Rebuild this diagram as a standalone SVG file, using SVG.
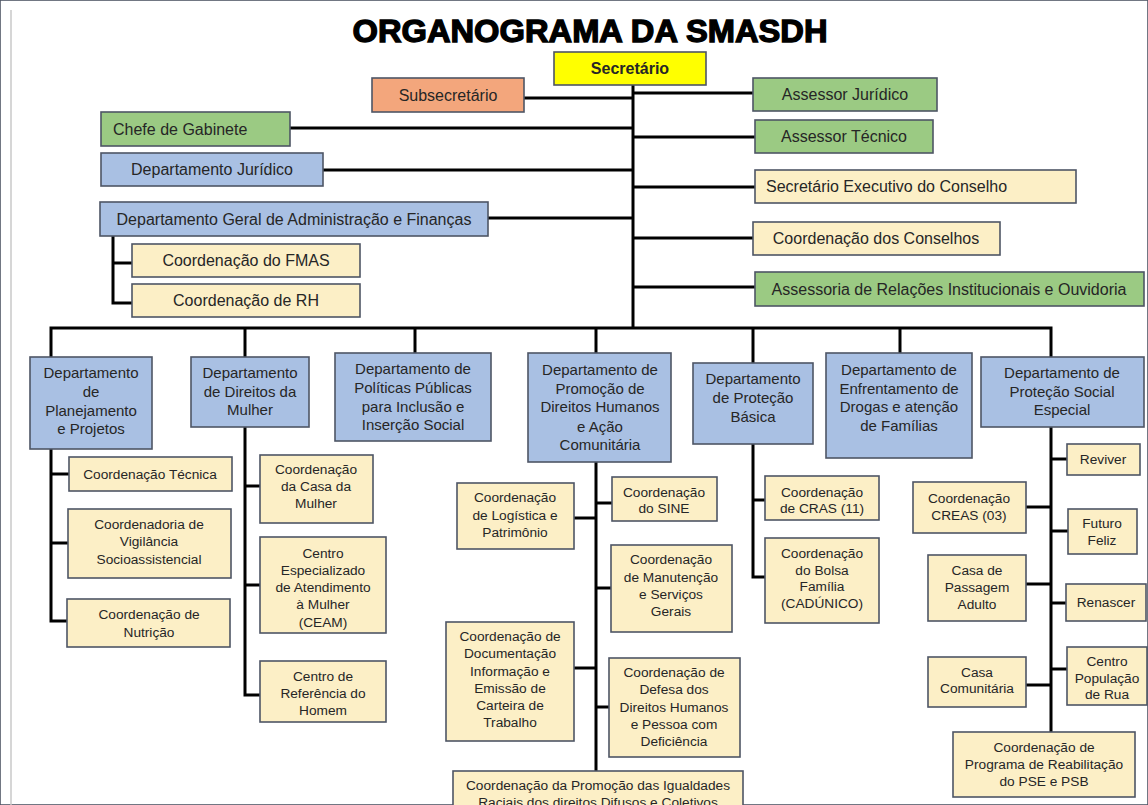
<svg xmlns="http://www.w3.org/2000/svg" width="1148" height="805" viewBox="0 0 1148 805">
<style>
rect{stroke:#4e5565;stroke-width:1.6}
.b{fill:#a9c0e3}
.y{fill:#fcefc6}
.g{fill:#9bca83}
.o{fill:#f3a67c}
.s{fill:#ffff00}
text{font-family:"Liberation Sans",Arial,sans-serif;fill:#262626;text-anchor:middle}
.t16{font-size:16px}
.t15{font-size:15px}
.t14{font-size:13.7px}
.l{text-anchor:start}
.c path{stroke:#000;stroke-width:3;fill:none;stroke-linejoin:miter}
</style>
<rect x="0" y="0" width="1148" height="805" fill="#fff" stroke="none"/>
<line x1="11" y1="10" x2="11" y2="805" stroke="#c8c8c8" stroke-width="1.5"/>
<text x="590" y="42" font-size="31" font-weight="bold" textLength="475" lengthAdjust="spacingAndGlyphs" style="fill:#000;stroke:#000;stroke-width:1.3">ORGANOGRAMA DA SMASDH</text>

<g class="c" id="connectors">
<path d="M633 85V328"/>
<path d="M524 98H633"/>
<path d="M290 128H633"/>
<path d="M323 170H633"/>
<path d="M488 218H633"/>
<path d="M633 93H753"/>
<path d="M633 137H755"/>
<path d="M633 187H755"/>
<path d="M633 238H753"/>
<path d="M633 287H755"/>
<path d="M113 236V303H132"/>
<path d="M113 263H132"/>
<path d="M51 357V328H1051V357"/>
<path d="M245 328V357"/>
<path d="M415 328V353"/>
<path d="M596 328V353"/>
<path d="M753 328V363"/>
<path d="M900 328V353"/>
<path d="M51 449V621H67"/>
<path d="M51 474H69"/>
<path d="M51 543H68"/>
<path d="M245 427V695H260"/>
<path d="M245 486H260"/>
<path d="M245 585H260"/>
<path d="M596 462V771"/>
<path d="M574 518H596"/>
<path d="M596 503H612"/>
<path d="M596 588H611"/>
<path d="M574 668H596"/>
<path d="M596 707H609"/>
<path d="M753 444V577H765"/>
<path d="M753 500H765"/>
<path d="M1051 427V732"/>
<path d="M1051 459H1067"/>
<path d="M1026 507H1051"/>
<path d="M1051 531H1068"/>
<path d="M1026 584H1051"/>
<path d="M1051 603H1066"/>
<path d="M1051 669H1067"/>
<path d="M1026 685H1051"/>
</g>

<g id="secretario"><rect class="s" x="554" y="52" width="152" height="33"/><text class="t16" x="630" y="74" font-weight="bold">Secretário</text></g>
<g id="subsecretario"><rect class="o" x="372" y="78" width="152" height="34"/><text class="t16" x="448" y="101">Subsecretário</text></g>
<g id="chefe-gabinete"><rect class="g" x="101" y="112" width="189" height="34"/><text class="t16 l" x="113" y="135">Chefe de Gabinete</text></g>
<g id="dep-juridico"><rect class="b" x="101" y="153" width="222" height="33"/><text class="t16" x="212" y="175">Departamento Jurídico</text></g>
<g id="dgaf"><rect class="b" x="100" y="202" width="388" height="34"/><text class="t16" x="294" y="225">Departamento Geral de Administração e Finanças</text></g>
<g id="coord-fmas"><rect class="y" x="132" y="244" width="228" height="33"/><text class="t16" x="246" y="266">Coordenação do FMAS</text></g>
<g id="coord-rh"><rect class="y" x="132" y="284" width="228" height="33"/><text class="t16" x="246" y="306">Coordenação de RH</text></g>
<g id="assessor-juridico"><rect class="g" x="753" y="78" width="184" height="33"/><text class="t16" x="845" y="100">Assessor Jurídico</text></g>
<g id="assessor-tecnico"><rect class="g" x="755" y="120" width="178" height="33"/><text class="t16" x="844" y="142">Assessor Técnico</text></g>
<g id="sec-exec"><rect class="y" x="755" y="170" width="321" height="33"/><text class="t16 l" x="766" y="192">Secretário Executivo do Conselho</text></g>
<g id="coord-conselhos"><rect class="y" x="753" y="222" width="247" height="33"/><text class="t16" x="876" y="244">Coordenação dos Conselhos</text></g>
<g id="assessoria-ri"><rect class="g" x="755" y="272" width="389" height="34"/><text class="t16" x="949" y="295">Assessoria de Relações Institucionais e Ouvidoria</text></g>

<g id="dep-planejamento"><rect class="b" x="30" y="357" width="122" height="92"/><text class="t15"><tspan x="91" y="378">Departamento</tspan><tspan x="91" y="397">de</tspan><tspan x="91" y="416">Planejamento</tspan><tspan x="91" y="434">e Projetos</tspan></text></g>
<g id="dep-mulher"><rect class="b" x="191" y="357" width="118" height="70"/><text class="t15"><tspan x="250" y="378">Departamento</tspan><tspan x="250" y="397">de Direitos da</tspan><tspan x="250" y="415">Mulher</tspan></text></g>
<g id="dep-politicas"><rect class="b" x="335" y="353" width="156" height="88"/><text class="t15"><tspan x="413" y="374">Departamento de</tspan><tspan x="413" y="393">Políticas Públicas</tspan><tspan x="413" y="412">para Inclusão e</tspan><tspan x="413" y="430">Inserção Social</tspan></text></g>
<g id="dep-promocao"><rect class="b" x="528" y="353" width="143" height="109"/><text class="t15"><tspan x="600" y="375">Departamento de</tspan><tspan x="600" y="394">Promoção de</tspan><tspan x="600" y="412">Direitos Humanos</tspan><tspan x="600" y="432">e Ação</tspan><tspan x="600" y="450">Comunitária</tspan></text></g>
<g id="dep-basica"><rect class="b" x="693" y="363" width="120" height="81"/><text class="t15"><tspan x="753" y="384">Departamento</tspan><tspan x="753" y="403">de Proteção</tspan><tspan x="753" y="422">Básica</tspan></text></g>
<g id="dep-drogas"><rect class="b" x="826" y="353" width="146" height="105"/><text class="t15"><tspan x="899" y="375">Departamento de</tspan><tspan x="899" y="394">Enfrentamento de</tspan><tspan x="899" y="412">Drogas e atenção</tspan><tspan x="899" y="431">de Famílias</tspan></text></g>
<g id="dep-pse"><rect class="b" x="981" y="357" width="163" height="70"/><text class="t15"><tspan x="1062" y="378">Departamento de</tspan><tspan x="1062" y="397">Proteção Social</tspan><tspan x="1062" y="415">Especial</tspan></text></g>

<g id="coord-tecnica"><rect class="y" x="69" y="457" width="163" height="34"/><text class="t14" x="150" y="479">Coordenação Técnica</text></g>
<g id="coord-vigilancia"><rect class="y" x="68" y="509" width="163" height="69"/><text class="t14"><tspan x="149" y="529">Coordenadoria de</tspan><tspan x="149" y="546">Vigilância</tspan><tspan x="149" y="564">Socioassistencial</tspan></text></g>
<g id="coord-nutricao"><rect class="y" x="67" y="599" width="163" height="48"/><text class="t14"><tspan x="149" y="619">Coordenação de</tspan><tspan x="149" y="637">Nutrição</tspan></text></g>

<g id="coord-casa-mulher"><rect class="y" x="260" y="455" width="113" height="68"/><text class="t14"><tspan x="316" y="474">Coordenação</tspan><tspan x="316" y="491">da Casa da</tspan><tspan x="316" y="508">Mulher</tspan></text></g>
<g id="ceam"><rect class="y" x="260" y="537" width="126" height="96"/><text class="t14"><tspan x="323" y="558">Centro</tspan><tspan x="323" y="575">Especializado</tspan><tspan x="323" y="592">de Atendimento</tspan><tspan x="323" y="609">à Mulher</tspan><tspan x="323" y="627">(CEAM)</tspan></text></g>
<g id="centro-homem"><rect class="y" x="260" y="661" width="126" height="61"/><text class="t14"><tspan x="323" y="681">Centro de</tspan><tspan x="323" y="698">Referência do</tspan><tspan x="323" y="715">Homem</tspan></text></g>

<g id="coord-logistica"><rect class="y" x="457" y="483" width="117" height="66"/><text class="t14"><tspan x="515" y="502">Coordenação</tspan><tspan x="515" y="520">de Logística e</tspan><tspan x="515" y="537">Patrimônio</tspan></text></g>
<g id="coord-sine"><rect class="y" x="612" y="477" width="105" height="44"/><text class="t14"><tspan x="664" y="497">Coordenação</tspan><tspan x="664" y="513">do SINE</tspan></text></g>
<g id="coord-manutencao"><rect class="y" x="611" y="545" width="121" height="87"/><text class="t14"><tspan x="671" y="564">Coordenação</tspan><tspan x="671" y="582">de Manutenção</tspan><tspan x="671" y="599">e Serviços</tspan><tspan x="671" y="616">Gerais</tspan></text></g>
<g id="coord-documentacao"><rect class="y" x="446" y="622" width="128" height="119"/><text class="t14"><tspan x="510" y="641">Coordenação de</tspan><tspan x="510" y="658">Documentação</tspan><tspan x="510" y="676">Informação e</tspan><tspan x="510" y="693">Emissão de</tspan><tspan x="510" y="710">Carteira de</tspan><tspan x="510" y="727">Trabalho</tspan></text></g>
<g id="coord-defesa"><rect class="y" x="609" y="658" width="131" height="99"/><text class="t14"><tspan x="674" y="677">Coordenação de</tspan><tspan x="674" y="694">Defesa dos</tspan><tspan x="674" y="712">Direitos Humanos</tspan><tspan x="674" y="729">e Pessoa com</tspan><tspan x="674" y="746">Deficiência</tspan></text></g>
<g id="coord-igualdades"><rect class="y" x="453" y="771" width="290" height="50"/><text class="t14"><tspan x="598" y="790">Coordenação da Promoção das Igualdades</tspan><tspan x="598" y="807">Raciais dos direitos Difusos e Coletivos</tspan></text></g>

<g id="coord-cras"><rect class="y" x="765" y="476" width="114" height="44"/><text class="t14"><tspan x="822" y="497">Coordenação</tspan><tspan x="822" y="513">de CRAS (11)</tspan></text></g>
<g id="coord-bolsa"><rect class="y" x="765" y="538" width="114" height="85"/><text class="t14"><tspan x="822" y="558">Coordenação</tspan><tspan x="822" y="575">do Bolsa</tspan><tspan x="822" y="591">Família</tspan><tspan x="822" y="608">(CADÚNICO)</tspan></text></g>

<g id="reviver"><rect class="y" x="1067" y="444" width="73" height="31"/><text class="t14" x="1103" y="464">Reviver</text></g>
<g id="coord-creas"><rect class="y" x="913" y="482" width="113" height="51"/><text class="t14"><tspan x="969" y="503">Coordenação</tspan><tspan x="969" y="520">CREAS (03)</tspan></text></g>
<g id="futuro-feliz"><rect class="y" x="1068" y="509" width="69" height="45"/><text class="t14"><tspan x="1102" y="528">Futuro</tspan><tspan x="1102" y="545">Feliz</tspan></text></g>
<g id="casa-passagem"><rect class="y" x="928" y="555" width="98" height="66"/><text class="t14"><tspan x="977" y="575">Casa de</tspan><tspan x="977" y="592">Passagem</tspan><tspan x="977" y="609">Adulto</tspan></text></g>
<g id="renascer"><rect class="y" x="1066" y="584" width="80" height="37"/><text class="t14" x="1106" y="607">Renascer</text></g>
<g id="centro-pop-rua"><rect class="y" x="1067" y="647" width="80" height="58"/><text class="t14"><tspan x="1107" y="666">Centro</tspan><tspan x="1107" y="683">População</tspan><tspan x="1107" y="699">de Rua</tspan></text></g>
<g id="casa-comunitaria"><rect class="y" x="928" y="657" width="98" height="50"/><text class="t14"><tspan x="977" y="677">Casa</tspan><tspan x="977" y="693">Comunitária</tspan></text></g>
<g id="coord-reabilitacao"><rect class="y" x="953" y="732" width="182" height="65"/><text class="t14"><tspan x="1044" y="752">Coordenação de</tspan><tspan x="1044" y="769">Programa de Reabilitação</tspan><tspan x="1044" y="786">do PSE e PSB</tspan></text></g>
</svg>
